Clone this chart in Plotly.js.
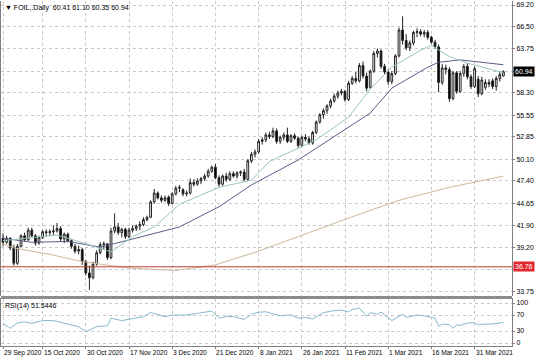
<!DOCTYPE html>
<html><head><meta charset="utf-8">
<script src="https://cdn.plot.ly/plotly-3.0.1.min.js"></script>
<style>html,body{margin:0;padding:0;background:#fff}#chart{width:536px;height:357px}</style>
</head><body><div id="chart"></div>
<script>
// ---- price data (daily bars, index 0 = first visible bar) ----
const opens = [40.3,39.8,40.3,39.1,37.2,39.3,40.6,40.1,41.3,40.6,39.7,40.4,41.1,41.0,41.1,41.2,41.5,40.2,40.8,40.0,
39.3,38.7,38.9,37.4,36.0,35.4,37.1,38.5,39.5,39.6,37.9,41.2,41.7,41.0,41.4,40.5,41.3,41.5,41.8,42.0,
42.6,42.9,44.8,45.9,45.3,45.0,45.4,44.6,45.8,46.5,46.3,45.8,45.9,47.2,47.0,47.4,47.7,48.0,48.6,49.1,
47.8,47.0,48.0,47.6,48.3,48.0,48.4,48.5,47.6,49.9,50.7,51.0,52.3,52.5,53.1,52.9,53.6,52.3,52.8,53.1,
52.3,53.0,52.7,51.8,52.8,52.6,52.1,53.4,54.7,55.6,56.1,56.7,57.3,57.9,58.3,58.5,57.5,59.5,60.1,59.8,
61.7,60.4,59.0,61.0,63.2,63.5,61.6,60.9,59.7,60.7,62.9,66.1,64.8,63.9,64.5,65.8,65.9,65.6,65.8,65.2,
64.6,64.0,59.6,61.4,61.2,57.6,60.8,58.5,60.7,61.6,60.3,59.1,60.0,58.2,59.0,59.6,59.8,59.1,60.1,60.41];
const highs = [40.9,40.6,40.4,39.5,39.6,40.8,41.0,41.6,41.6,40.8,40.6,41.3,41.4,41.4,41.9,42.2,41.8,41.0,41.0,40.2,
39.6,39.4,39.1,37.6,36.9,37.4,38.8,39.8,39.9,39.7,41.6,43.4,42.2,41.6,41.6,41.6,41.9,42.0,42.4,42.9,
43.1,45.0,46.4,46.1,45.6,45.6,45.6,46.0,46.8,46.9,46.5,46.2,47.7,47.6,47.7,47.9,48.3,48.9,49.3,49.5,
48.1,48.2,48.4,48.6,48.6,48.6,48.7,48.9,50.1,51.0,51.3,52.6,52.8,53.4,53.5,54.0,53.9,53.0,53.4,54.0,
53.2,53.3,52.9,53.0,53.2,52.9,53.6,54.9,55.8,56.4,56.9,57.6,58.2,58.6,58.8,58.7,59.8,60.4,60.9,62.0,
62.2,60.8,61.2,63.5,63.8,63.7,61.9,61.2,61.0,63.1,66.4,67.8,65.6,64.8,66.0,66.3,66.2,66.1,66.1,65.4,
64.9,64.3,61.9,61.8,61.5,61.0,61.0,61.0,61.9,62.0,60.6,61.6,60.4,60.3,60.0,60.0,60.1,60.4,61.0,61.10];
const lows = [39.3,39.6,38.8,36.9,37.0,39.2,39.9,40.0,40.4,39.4,39.5,40.2,40.5,40.6,40.7,41.0,39.9,39.7,39.8,39.0,
38.4,38.3,37.0,35.7,33.9,35.2,36.9,38.3,38.9,37.6,37.7,40.9,40.7,40.4,40.2,40.3,41.0,41.2,41.3,41.8,
42.4,42.8,44.6,45.1,44.7,44.8,44.3,44.5,45.6,46.0,45.5,45.5,45.7,46.7,46.8,47.0,47.4,47.8,48.4,47.6,
46.7,46.8,47.3,47.4,47.8,47.7,48.0,47.3,47.4,49.6,50.3,50.8,51.9,52.2,52.6,52.7,52.0,52.0,52.4,52.1,
52.1,52.5,51.5,51.6,52.3,51.9,51.9,53.2,54.5,55.1,55.7,56.4,57.1,57.6,58.0,57.2,57.3,59.3,59.5,59.6,
60.1,58.5,58.8,60.8,62.7,61.3,60.6,59.3,59.4,60.5,62.7,64.3,63.6,63.5,64.2,65.2,65.3,65.2,64.9,64.4,
63.8,58.4,59.3,60.6,57.2,57.4,58.2,58.3,60.3,60.0,58.8,58.9,57.8,58.0,58.7,59.0,58.8,58.6,59.7,60.35];
const closes = [39.8,40.3,39.1,37.2,39.3,40.6,40.1,41.3,40.6,39.7,40.4,41.1,41.0,41.1,41.2,41.5,40.2,40.8,40.0,39.3,
38.7,38.9,37.4,36.0,35.4,37.1,38.5,39.5,39.6,37.9,41.2,41.7,41.0,41.4,40.5,41.3,41.5,41.8,42.0,42.6,
42.9,44.8,45.9,45.3,45.0,45.3,44.6,45.8,46.5,46.6,45.8,45.9,47.2,47.0,47.4,47.7,48.0,48.6,49.1,47.8,
47.0,48.0,47.6,48.3,48.0,48.4,48.5,47.6,49.9,50.7,51.0,52.3,52.5,53.1,52.9,53.6,52.3,52.8,53.1,52.3,
53.0,52.7,51.8,52.8,52.6,52.1,53.4,54.7,55.6,56.1,56.7,57.3,57.9,58.3,58.5,57.5,59.5,60.1,59.8,61.7,
60.4,58.9,61.0,63.2,63.5,61.6,60.9,59.7,60.7,62.9,66.1,64.8,63.9,64.5,65.8,65.9,65.6,65.8,65.2,64.6,
64.0,59.6,61.4,61.2,57.6,60.8,58.5,60.7,61.6,60.3,59.1,61.3,58.2,59.9,59.6,59.4,59.1,60.1,60.6,60.94];

// ---- moving averages read at sample bars ----
const maFastIdx = [0,8,15,21,27,30,36,42,49,60,69,74,87,96,102,108,116,119,124,129,139];
const maFastVal = [40.0,40.4,40.7,39.9,39.0,38.6,40.5,41.7,44.5,46.6,47.5,49.8,52.5,55.3,58.8,61.5,63.6,64.2,62.8,62.0,60.8];
const maMidIdx = [0,8,18,27,36,49,60,69,82,102,108,118,121,127,139];
const maMidVal = [40.3,39.8,39.9,39.2,40.2,41.7,44.2,46.9,50.0,55.8,58.9,61.5,62.1,62.4,61.8];
const maSlowIdx = [0,3,13,22,35,48,59,71,82,96,110,124,139];
const maSlowVal = [39.6,39.1,38.3,37.4,36.6,36.3,37.0,38.7,40.5,42.8,45.0,46.6,48.0];

// ---- RSI(14) read at sample bars ----
const rsiIdx = [0,2,4,6,8,11,14,16,19,21,23,26,29,30,33,36,39,41,45,47,51,54,58,60,62,64,67,69,71,73,76,77,79,80,82,84,86,89,92,94,96,97,99,101,102,104,105,107,108,111,112,115,117,119,120,121,122,124,125,126,127,129,131,132,133,136,138,139];
const rsiVal = [49,37,50,53,49,56,56,51,45,41,28,41,43,62,56,61,66,76,66,70,70,74,80,62,66,66,59,72,77,78,70,68,70,70,62,64,60,76,81,82,78,84,87,67,76,72,77,62,56,72,64,70,68,64,62,42,47,46,37,45,44,50,51,45,47,47.5,49,51.5];

// ---- labels ----
const dateIdx = [0,11,23,35,47,59,71,83,95,107,119,131];
const dateText = ['29 Sep 2020','15 Oct 2020','30 Oct 2020','17 Nov 2020','3 Dec 2020','21 Dec 2020','8 Jan 2021','26 Jan 2021','11 Feb 2021','1 Mar 2021','16 Mar 2021','31 Mar 2021'];
const priceTicks = [69.20,66.50,63.75,61.00,58.30,55.55,52.85,50.10,47.40,44.65,41.90,39.20,36.45,33.75];
const hiddenTicks = [61.00,36.45];   // covered by the price boxes in the reference
const rsiTicks = [0,30,70,100];
const hLine = 36.76;
const lastPrice = 60.94;
const symbolText = 'FOIL,.Daily  60.41 61.10 60.35 60.94';
const rsiText = 'RSI(14) 51.5446';

const idx = closes.map((_, i) => i);
const FONT = 'Liberation Sans, Arial, sans-serif';

const traces = [
  {type:'scatter', mode:'lines', x:maSlowIdx, y:maSlowVal, line:{color:'#cdb898', width:1}, hoverinfo:'skip', xaxis:'x', yaxis:'y'},
  {type:'scatter', mode:'lines', x:maMidIdx, y:maMidVal, line:{color:'#5c5c8c', width:1}, hoverinfo:'skip', xaxis:'x', yaxis:'y'},
  {type:'scatter', mode:'lines', x:maFastIdx, y:maFastVal, line:{color:'#96c6bc', width:1}, hoverinfo:'skip', xaxis:'x', yaxis:'y'},
  {type:'candlestick', x:idx, open:opens, high:highs, low:lows, close:closes,
   increasing:{line:{color:'#222', width:1}, fillcolor:'#ffffff'},
   decreasing:{line:{color:'#222', width:1}, fillcolor:'#000000'},
   whiskerwidth:0, hoverinfo:'skip', xaxis:'x', yaxis:'y'},
  {type:'scatter', mode:'lines', x:rsiIdx, y:rsiVal, line:{color:'#86b9cc', width:1}, hoverinfo:'skip', xaxis:'x', yaxis:'y2'}
];

const annotations = [
  {xref:'paper', yref:'paper', x:0, y:1, xanchor:'left', yanchor:'top', xshift:2, yshift:-1, showarrow:false,
   text:'\u25BC '+symbolText, font:{family:FONT, size:7, color:'#000'}},
  {xref:'paper', yref:'paper', x:0, y:0.1362, xanchor:'left', yanchor:'top', xshift:2, yshift:-1, showarrow:false,
   text:rsiText, font:{family:FONT, size:7, color:'#000'}},
  {xref:'paper', yref:'y', x:1, y:hLine, xanchor:'left', yanchor:'middle', xshift:1, showarrow:false,
   text:hLine.toFixed(2), bgcolor:'#e0282c', borderpad:1, font:{family:FONT, size:7, color:'#fff'}},
  {xref:'paper', yref:'y', x:1, y:lastPrice, xanchor:'left', yanchor:'middle', xshift:1, showarrow:false,
   text:lastPrice.toFixed(2), bgcolor:'#000', borderpad:1, font:{family:FONT, size:7, color:'#fff'}}
];
dateIdx.forEach((d, k) => annotations.push({xref:'x', yref:'paper', x:d, y:0, xanchor:'left', yanchor:'top',
  xshift:-1, yshift:-1, showarrow:false, text:dateText[k], font:{family:FONT, size:6.6, color:'#000'}}));

const layout = {
  width:536, height:357, paper_bgcolor:'#fff', plot_bgcolor:'#fff',
  margin:{l:1, r:24, t:1, b:11}, showlegend:false, dragmode:false,
  font:{family:FONT, size:7, color:'#000'},
  xaxis:{range:[-0.56, 141.39], anchor:'y2', tickvals:dateIdx, showticklabels:false,
    showgrid:true, gridcolor:'#c8c8c8', griddash:'dot', gridwidth:1, zeroline:false,
    showline:true, linecolor:'#808080', mirror:true, ticks:'outside', ticklen:2, tickcolor:'#808080',
    rangeslider:{visible:false}, fixedrange:true},
  yaxis:{domain:[0.1449, 1], range:[33.141, 69.696], side:'right', tickvals:priceTicks,
    ticktext:priceTicks.map(v => hiddenTicks.includes(v) ? '' : v.toFixed(2)), tickfont:{family:FONT, size:7, color:'#000'},
    showgrid:true, gridcolor:'#c8c8c8', griddash:'dot', zeroline:false,
    showline:true, linecolor:'#808080', mirror:true, ticks:'outside', ticklen:2, tickcolor:'#808080', fixedrange:true},
  yaxis2:{domain:[0, 0.1362], range:[-7.5, 110], side:'right', tickvals:rsiTicks,
    ticktext:rsiTicks.map(String), tickfont:{family:FONT, size:7, color:'#000'},
    showgrid:true, gridcolor:'#c8c8c8', griddash:'dot', zeroline:false,
    showline:true, linecolor:'#808080', mirror:true, ticks:'outside', ticklen:2, tickcolor:'#808080', fixedrange:true},
  shapes:[
    {type:'rect', xref:'paper', yref:'paper', x0:0, x1:1, y0:0.1362, y1:0.1449, fillcolor:'#8c8c8c', line:{width:0}},
    {type:'line', xref:'paper', yref:'y', x0:0, x1:1, y0:hLine, y1:hLine, line:{color:'#c0392b', width:1}}
  ],
  annotations:annotations
};

Plotly.newPlot('chart', traces, layout, {staticPlot:true, displayModeBar:false});
</script></body></html>
